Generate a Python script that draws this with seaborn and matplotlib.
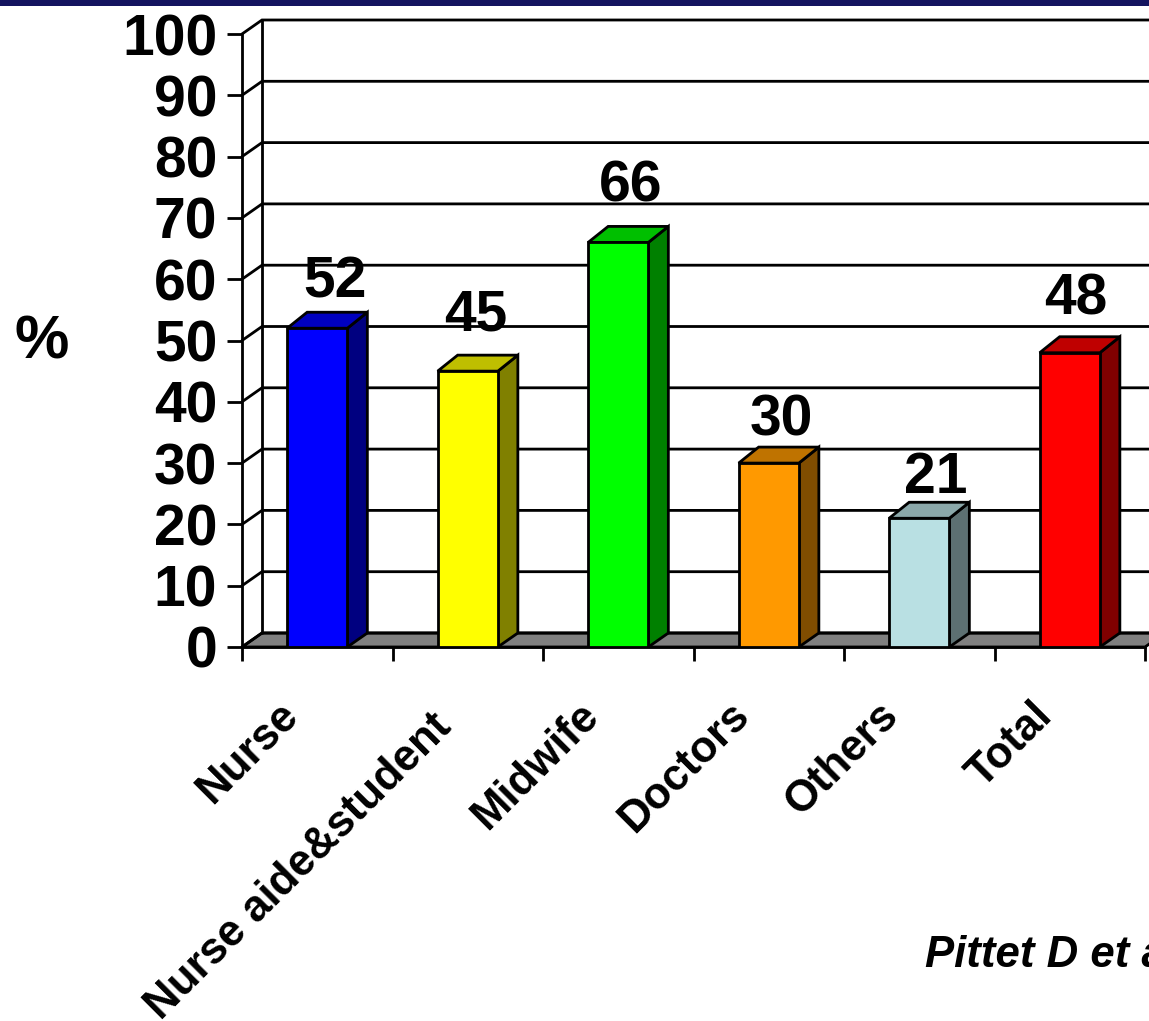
import numpy as np
import matplotlib
matplotlib.use("Agg")
import matplotlib.pyplot as plt
from matplotlib.patches import Polygon, Rectangle
from matplotlib.colors import to_rgb
from matplotlib.transforms import ScaledTranslation
import seaborn as sns

categories = ["Nurse", "Nurse aide&student", "Midwife", "Doctors", "Others", "Total"]
values = [52, 45, 66, 30, 21, 48]
front_colors = ["#0000ff", "#ffff00", "#00ff00", "#ff9900", "#b9e0e3", "#ff0000"]
y_ticks = list(range(0, 101, 10))
citation = "Pittet D et al"

# Pixel offsets of each value label from its bar's front centre / top
label_dx = [18, 8, 12, 13, 16, 6]
label_dy = [31, 41, 41, 28, 25, 38]

# Pixel nudges for the slanted category labels
xlabel_nudge = [(-40, 2), (-37, -9), (-40, 2), (-40, 2), (-42, 2), (-38, 2)]

W, H = 1149, 1021
sns.set_theme(style="white")
plt.rcParams["font.family"] = ["Liberation Sans", "DejaVu Sans"]
fig = plt.figure(figsize=(W / 100, H / 100), dpi=100)
ax = fig.add_axes([242 / W, 1 - 647 / H, (1145 - 242) / W, (647 - 34) / H])
px = 72 / 100  # points per pixel
line_w = 2.8 * px

sns.barplot(x=categories, y=values, hue=categories, palette=front_colors, legend=False,
            width=0.4, saturation=1, edgecolor="black", linewidth=line_w, ax=ax, zorder=5)
ax.set_xlim(-0.5, 5.5)
ax.set_ylim(0, 100)
ax.patch.set_alpha(0)
sns.despine(ax=ax, top=True, right=True)
ax.spines["left"].set_linewidth(line_w)
ax.spines["bottom"].set_linewidth(line_w)
ax.spines["left"].set_color("black")
ax.spines["bottom"].set_color("black")
ax.set_xlabel("")
ax.set_ylabel("")

# Depth of the extruded look, in data units
dx = 20 / (903 / 6)
dy = 14 / 6.13
top_dy = 16 / 6.13
x_left, x_right = -0.5, 5.5

# Floor and back wall
ax.add_patch(Polygon([(x_left, 0), (x_left + dx, dy), (x_right + dx, dy), (x_right, 0)], closed=True,
                     facecolor="#808080", edgecolor="black", linewidth=line_w, zorder=1, clip_on=False))
for t in y_ticks:
    ax.plot([x_left, x_left + dx, x_right + dx], [t, t + dy, t + dy], color="black",
            lw=line_w, zorder=2, clip_on=False, solid_joinstyle="miter")
ax.plot([x_left + dx, x_left + dx], [dy, 100 + dy], color="black", lw=line_w, zorder=2, clip_on=False)


def shade(color, k):
    return tuple(c * k for c in to_rgb(color))


# Side and top faces built from the drawn bars
for bar, col in zip(ax.patches, front_colors):
    x0, x1 = bar.get_x(), bar.get_x() + bar.get_width()
    h = bar.get_height()
    ax.add_patch(Polygon([(x1, 0), (x1 + dx, dy), (x1 + dx, h + top_dy), (x1, h)], closed=True,
                         facecolor=shade(col, 0.5), edgecolor="black", linewidth=line_w, zorder=4))
    ax.add_patch(Polygon([(x0, h), (x0 + dx, h + top_dy), (x1 + dx, h + top_dy), (x1, h)], closed=True,
                         facecolor=shade(col, 0.75), edgecolor="black", linewidth=line_w, zorder=4,
                         clip_on=False))

# Value labels
for i, (v, ox, oy) in enumerate(zip(values, label_dx, label_dy)):
    ax.annotate(str(v), xy=(i, v), xytext=(ox * px, oy * px), textcoords="offset points",
                ha="center", va="baseline", fontsize=41, fontweight="bold", color="black", zorder=6)

# Axis ticks and labels
ax.set_yticks(y_ticks)
ax.set_yticklabels([str(t) for t in y_ticks], fontsize=41, fontweight="bold", color="black")
ax.tick_params(axis="y", length=15 * px, width=line_w, pad=7, color="black", left=True)
ax.set_xticks(np.arange(6))
ax.set_xticklabels(categories, rotation=45, ha="right", rotation_mode="anchor",
                   fontsize=31.5, fontweight="bold", color="black")
ax.tick_params(axis="x", which="major", length=0, pad=36, bottom=False)
ax.set_xticks(np.arange(-0.5, 6.0, 1), minor=True)
ax.tick_params(axis="x", which="minor", length=14 * px, width=line_w, color="black", bottom=True)
for lab, (nx, ny) in zip(ax.get_xticklabels(), xlabel_nudge):
    lab.set_transform(lab.get_transform() + ScaledTranslation(nx / 100, ny / 100, fig.dpi_scale_trans))

fig.text(15 / W, 1 - 358 / H, "%", fontsize=44, fontweight="bold", color="black", ha="left", va="baseline")
fig.text(925 / W, 1 - 967 / H, citation, fontsize=31.5, fontweight="bold", fontstyle="italic",
         color="black", ha="left", va="baseline")

# Header band along the top edge
fig.add_artist(Rectangle((0, 1 - 6 / H), 1, 6 / H, transform=fig.transFigure,
                         facecolor="#14145f", edgecolor="none"))

fig.savefig("out.png", dpi=100)
